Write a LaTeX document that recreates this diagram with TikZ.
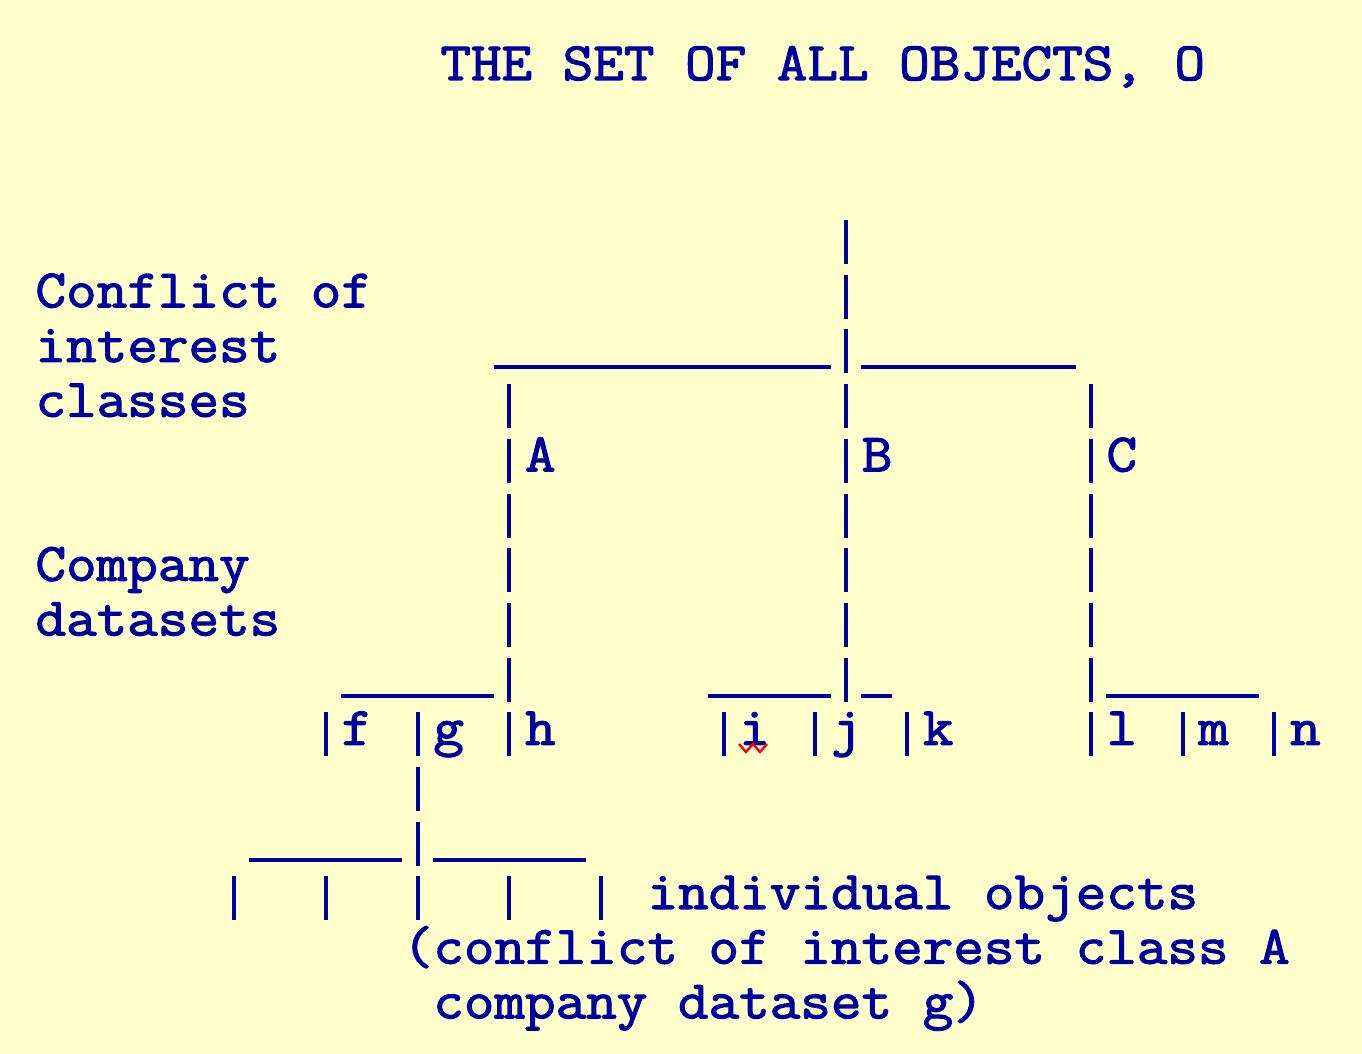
\documentclass[tikz,border=0pt]{standalone}
\usepackage{fontspec}
\newfontfamily\bitfont{Latin Modern Mono}[FakeBold=2.2,FakeStretch=1.10]
\definecolor{paper}{HTML}{FFFFCC}
\definecolor{ink}{HTML}{0000A0}
\begin{document}
\begin{tikzpicture}[x=0.5pt,y=-0.5pt,
  txt/.style={anchor=base west,inner sep=0pt,text=ink,
    font=\bitfont\fontsize{27}{30}\selectfont},
  barline/.style={draw=ink,line width=2pt},
  rule/.style={draw=ink,line width=2pt}]
\fill[paper] (0,0) rectangle (1362,1054);
\useasboundingbox (0,0) rectangle (1362,1054);
% title
\node[txt] (title) at (440,80) {THE SET OF ALL OBJECTS, O};
% text rows: col/row/text/name
\foreach \c/\r/\t/\n in {0/1/Conflict of/l1, 0/2/interest/l2, 0/3/classes/l3,
    0/6/Company/l4, 0/7/datasets/l5,
    16/4/A/cA, 27/4/B/cB, 35/4/C/cC,
    10/9/f/df, 13/9/g/dg, 16/9/h/dh, 23/9/i/di, 26/9/j/dj, 29/9/k/dk,
    35/9/l/dl, 38/9/m/dm, 41/9/n/dn,
    20/12/individual objects/io,
    12/13/(conflict of interest class A/n1,
    13/14/company dataset g)/n2}
  \node[txt] (\n) at ({35.1+30.6*\c},{252.5+54.7*\r}) {\t};
% vertical bars: col/row
\foreach \c/\r in {26/0,26/1,26/2,
    15/3,26/3,34/3, 15/4,26/4,34/4, 15/5,26/5,34/5,
    15/6,26/6,34/6, 15/7,26/7,34/7, 15/8,26/8,34/8,
    9/9,12/9,15/9,22/9,25/9,28/9,34/9,37/9,40/9,
    12/10, 12/11,
    6/12,9/12,12/12,15/12,18/12}
  \draw[barline] ({50.4+30.6*\c},{220+54.7*\r}) -- ++(0,44);
% underscores: first col/last col/row
\foreach \a/\b/\r in {15/25/2, 27/33/2,
    10/14/8, 22/25/8, 27/27/8, 35/39/8,
    7/11/11, 13/17/11}
  \draw[rule] ({35.1+30.6*\a},{258+54.7*\r}) -- ({35.1+30.6*(\b+1)},{258+54.7*\r});
% spell-check squiggle under i
\draw[red,line width=1.2pt] (739,744) -- (746,752) -- (753,744) -- (760,752) -- (767,744);
\end{tikzpicture}
\end{document}
